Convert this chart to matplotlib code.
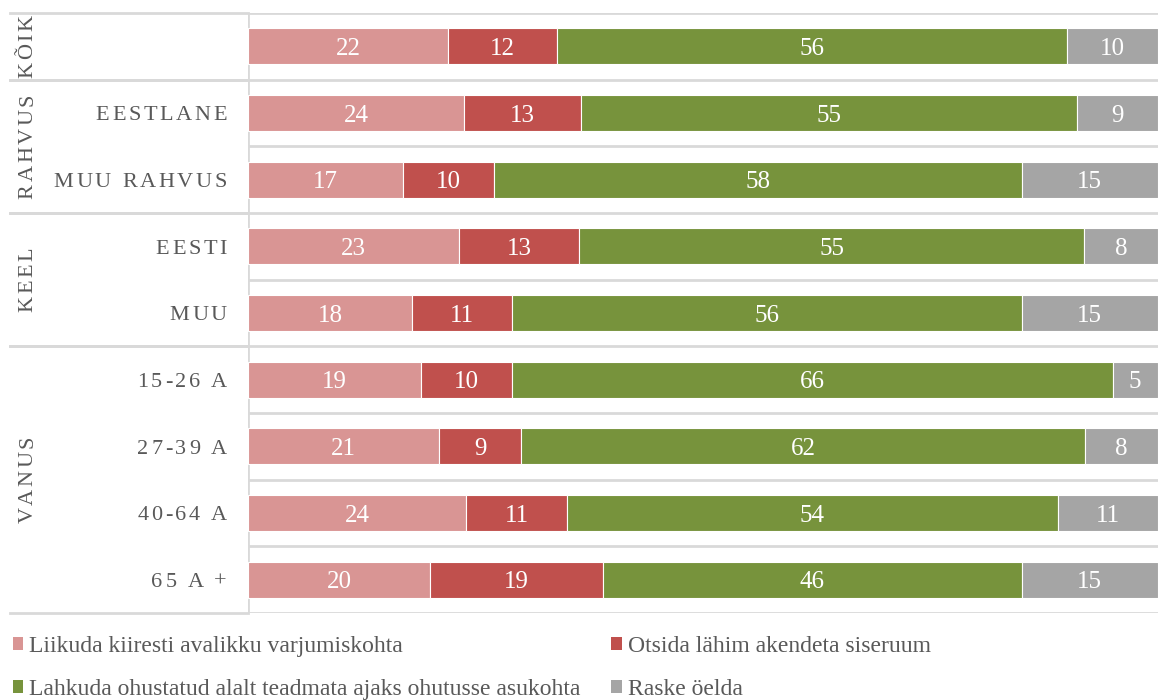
import matplotlib.pyplot as plt
from matplotlib.patches import Patch
from matplotlib.font_manager import FontProperties
from matplotlib.transforms import blended_transform_factory

plt.rcParams['font.family'] = ['Liberation Serif', 'DejaVu Serif']

categories = ['', 'EESTLANE', 'MUU RAHVUS', 'EESTI', 'MUU', '15-26 A', '27-39 A', '40-64 A', '65 A +']
groups = [('KÕIK', 0, 0), ('RAHVUS', 1, 2), ('KEEL', 3, 4), ('VANUS', 5, 8)]
series_names = ['Liikuda kiiresti avalikku varjumiskohta', 'Otsida lähim akendeta siseruum',
                'Lahkuda ohustatud alalt teadmata ajaks ohutusse asukohta', 'Raske öelda']
liikuda = [22, 24, 17, 23, 18, 19, 21, 24, 20]
otsida = [12, 13, 10, 13, 11, 10, 9, 11, 19]
lahkuda = [56, 55, 58, 55, 56, 66, 62, 54, 46]
raske = [10, 9, 15, 8, 15, 5, 8, 11, 15]
colors = ['#D99594', '#C0504D', '#77933C', '#A5A5A5']

grid_c = '#D9D9D9'
text_c = '#595959'
W, H = 1158, 700

fig = plt.figure(figsize=(W / 100, H / 100), dpi=100)
ax = fig.add_axes([248 / W, 1 - 613 / H, 1 - 248 / W, 600 / H])

data = [liikuda, otsida, lahkuda, raske]
ys = list(range(len(categories)))
vfs = 18
for i in ys:
    tot = sum(d[i] for d in data)
    left = 0
    for d, c in zip(data, colors):
        w = d[i] / tot * 100
        ax.barh(i, w, left=left, height=0.54, color=c, edgecolor='white', linewidth=0.8)
        ax.annotate(str(d[i]), (left + w / 2, i), xytext=(0, -0.34 * vfs), textcoords='offset points',
                    ha='center', va='baseline', color='white', fontsize=vfs)
        left += w

ax.set_xlim(0, 100)
ax.set_ylim(len(categories) - 0.5, -0.5)
ax.axis('off')

# row lines
for k in range(len(categories) + 1):
    ax.axhline(k - 0.5, color=grid_c, linewidth=2, zorder=0)
ax.axvline(0, color=grid_c, linewidth=2, zorder=0)

tr = blended_transform_factory(fig.transFigure, ax.transData)
for name, a, b in groups:
    for yb in (a - 0.5, b + 0.5):
        ax.plot([10 / W, 248 / W], [yb, yb], color=grid_c, linewidth=2, transform=tr, clip_on=False)

# letter-spaced labels
renderer = fig.canvas.get_renderer()
lfs = 16
prop = FontProperties(family=['Liberation Serif'], size=lfs)
px = lfs * 100 / 72
track = 0.12 * px
cap = 0.662 * px


def char_w(ch):
    w1 = renderer.get_text_width_height_descent('x' + ch + 'x', prop, ismath=False)[0]
    w0 = renderer.get_text_width_height_descent('xx', prop, ismath=False)[0]
    return w1 - w0


def tracked(s, x, y, vertical=False):
    ws = [char_w(ch) for ch in s]
    total = sum(ws) + track * (len(s) - 1)
    if vertical:
        pos = y - total / 2
        for ch, w in zip(s, ws):
            fig.text((x + cap / 2) / W, pos / H, ch, rotation=90, rotation_mode='anchor',
                     ha='left', va='baseline', fontproperties=prop, color=text_c)
            pos += w + track
    else:
        pos = x - total
        for ch, w in zip(s, ws):
            fig.text(pos / W, (y - cap / 2) / H, ch, ha='left', va='baseline',
                     fontproperties=prop, color=text_c)
            pos += w + track


for name, a, b in groups:
    yc = ax.transData.transform((0, (a + b) / 2))[1]
    tracked(name, 25, yc, vertical=True)

for i, cat in enumerate(categories):
    if cat:
        yc = ax.transData.transform((0, i))[1]
        tracked(cat, 227, yc)

handles = [Patch(facecolor=c) for c in colors]
order = [0, 2, 1, 3]
fig.legend([handles[k] for k in order], [series_names[k] for k in order],
           loc='upper left', bbox_to_anchor=(1 / W, 1 - 624 / H), ncol=2, frameon=False,
           fontsize=17, labelcolor=text_c, handlelength=0.45, handleheight=0.45,
           handletextpad=0.25, columnspacing=1.3, labelspacing=0.95, borderpad=0)

fig.savefig('out.png', dpi=100)
